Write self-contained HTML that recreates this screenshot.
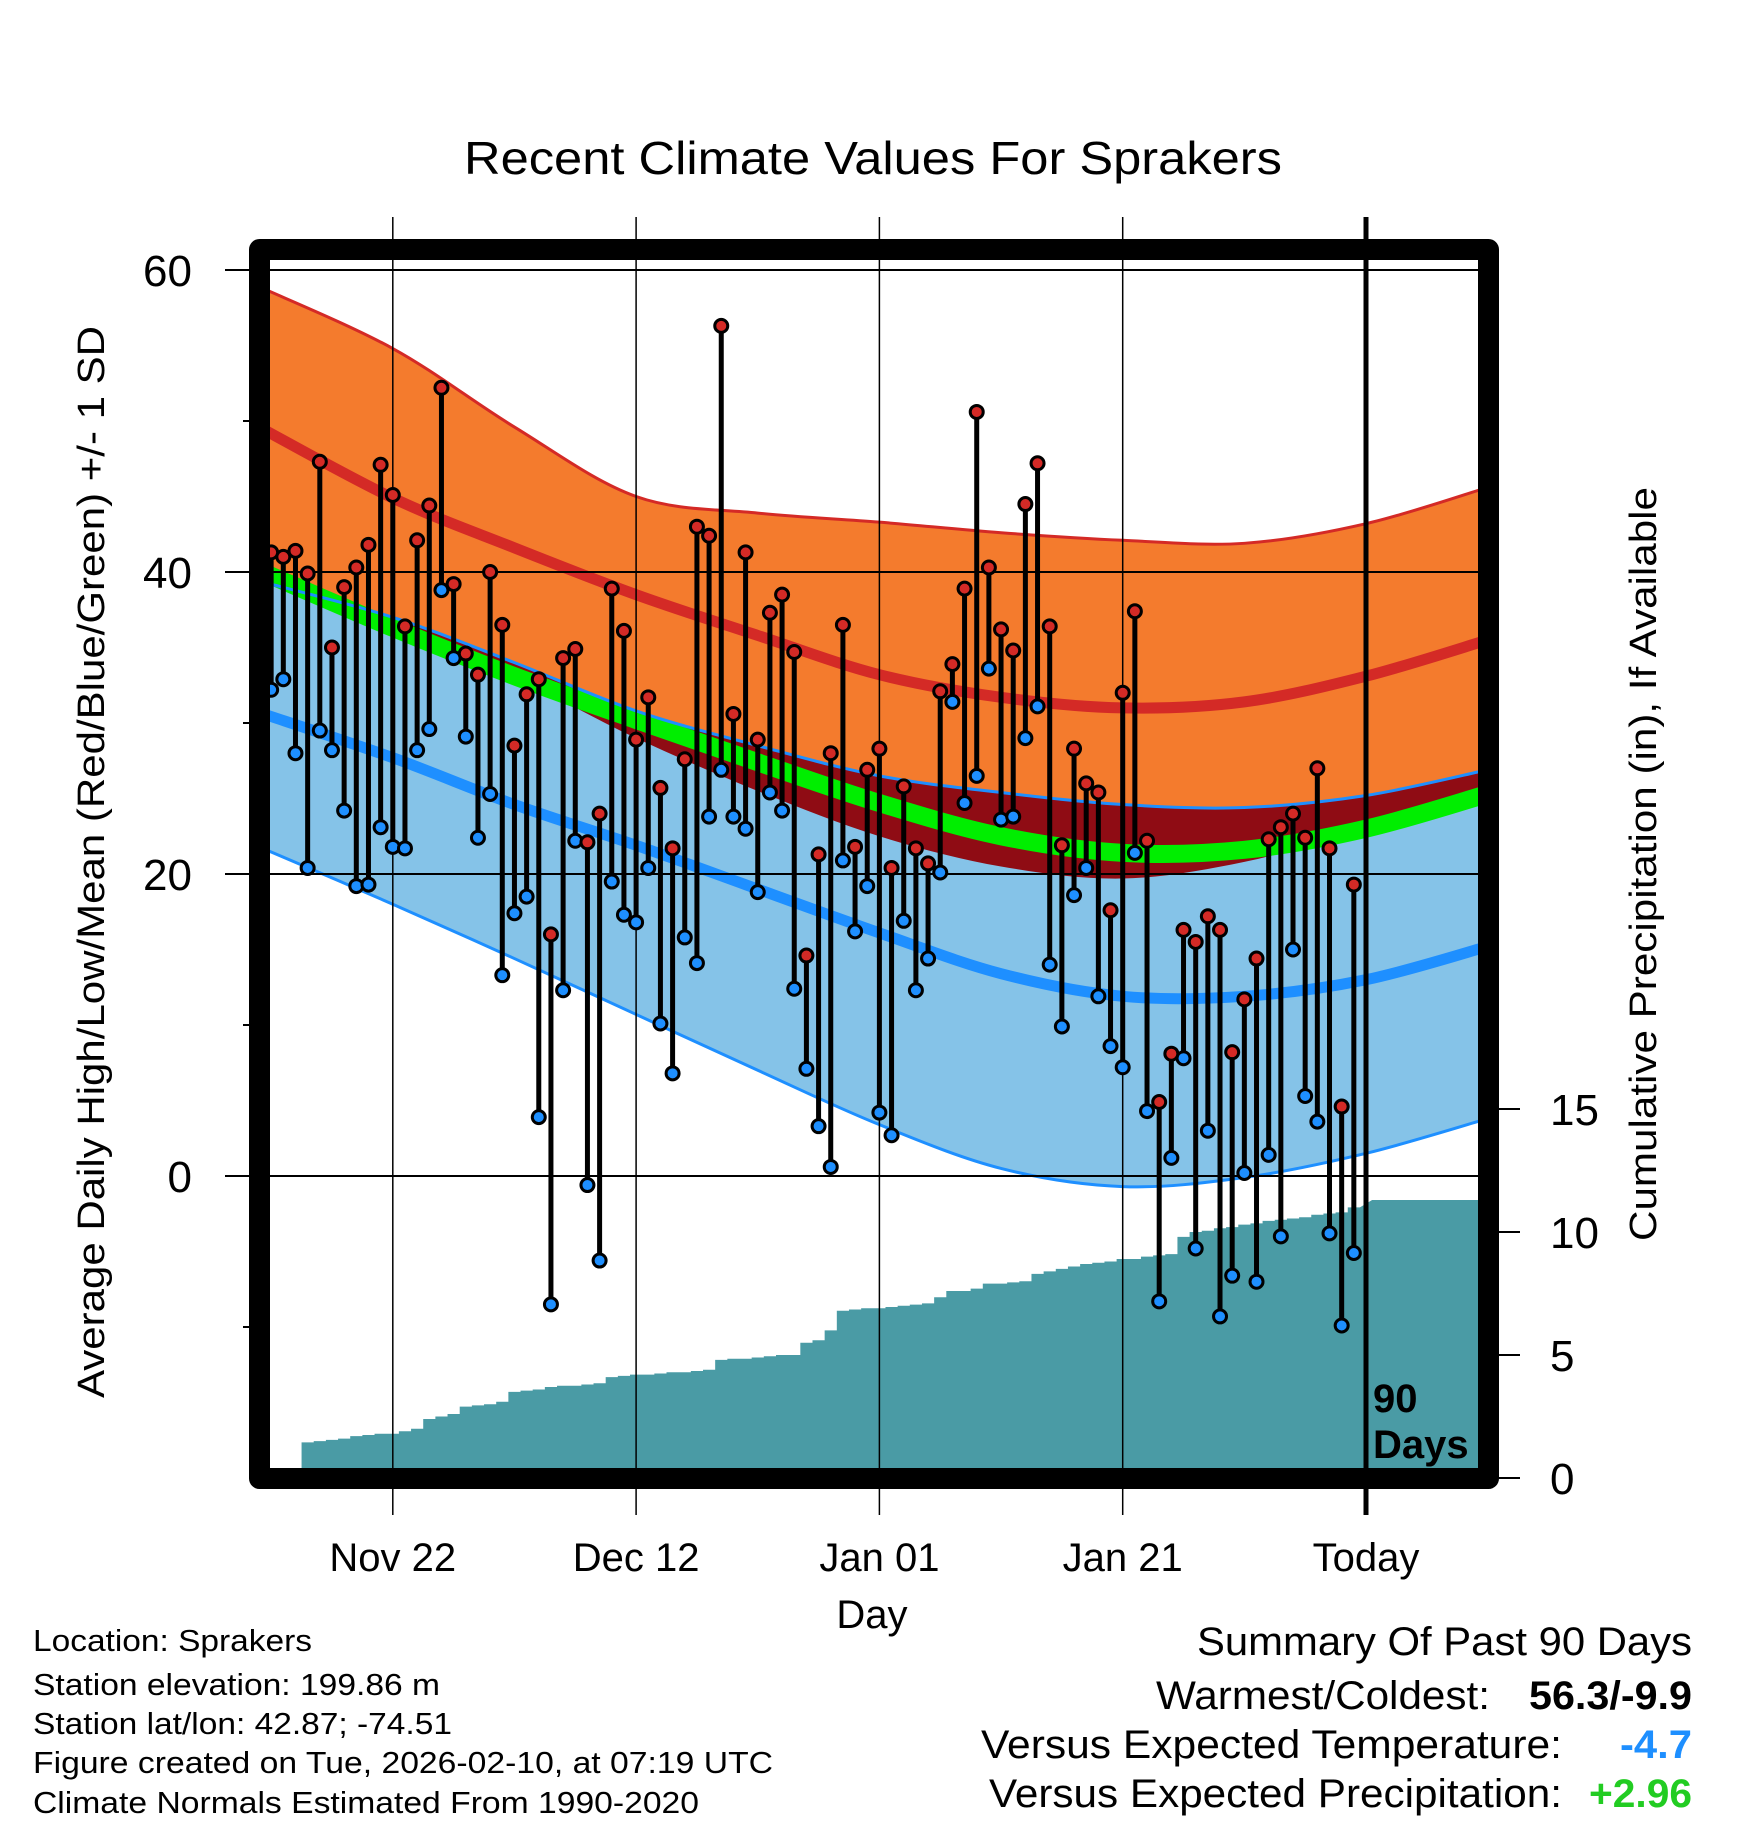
<!DOCTYPE html>
<html><head><meta charset="utf-8"><style>
html,body{margin:0;padding:0;background:#fff}
svg{display:block;font-family:"Liberation Sans",sans-serif}
</style></head><body>
<svg id="chart" width="1748" height="1828" viewBox="0 0 1748 1828" xmlns="http://www.w3.org/2000/svg">
<defs><clipPath id="plotClip"><rect x="270" y="260" width="1208" height="1208"/></clipPath>
<clipPath id="highClip"><path id="highClipPath" d=""/></clipPath></defs>
<text x="873" y="174" font-size="46" text-anchor="middle" textLength="818" lengthAdjust="spacingAndGlyphs">Recent Climate Values For Sprakers</text>
<g id="plot" clip-path="url(#plotClip)"></g>
<g id="axes"></g>
<g id="marks" clip-path="url(#plotClip)"></g>
<rect x="259.5" y="249.5" width="1229" height="1229" fill="none" stroke="#000" stroke-width="21" stroke-linejoin="round"/>
<text x="1373" y="1412" font-size="40" font-weight="bold">90</text>
<text x="1373" y="1458" font-size="40" font-weight="bold">Days</text>
<text transform="translate(104,862) rotate(-90)" font-size="38" text-anchor="middle" textLength="1072" lengthAdjust="spacingAndGlyphs">Average Daily High/Low/Mean (Red/Blue/Green) +/- 1 SD</text>
<text transform="translate(1656,864) rotate(-90)" font-size="38" text-anchor="middle" textLength="754" lengthAdjust="spacingAndGlyphs">Cumulative Precipitation (in), If Available</text>
<text x="872" y="1628" font-size="40" text-anchor="middle">Day</text>
<g font-size="31">
<text x="33" y="1651" textLength="279" lengthAdjust="spacingAndGlyphs">Location: Sprakers</text>
<text x="33" y="1695" textLength="407" lengthAdjust="spacingAndGlyphs">Station elevation: 199.86 m</text>
<text x="33" y="1734" textLength="419" lengthAdjust="spacingAndGlyphs">Station lat/lon: 42.87; -74.51</text>
<text x="33" y="1773" textLength="740" lengthAdjust="spacingAndGlyphs">Figure created on Tue, 2026-02-10, at 07:19 UTC</text>
<text x="33" y="1813" textLength="666" lengthAdjust="spacingAndGlyphs">Climate Normals Estimated From 1990-2020</text>
</g>
<g font-size="40">
<text x="1197" y="1655" textLength="495" lengthAdjust="spacingAndGlyphs">Summary Of Past 90 Days</text>
<text x="1156" y="1709" textLength="334" lengthAdjust="spacingAndGlyphs">Warmest/Coldest:</text>
<text x="1529" y="1709" font-weight="bold" textLength="163" lengthAdjust="spacingAndGlyphs">56.3/-9.9</text>
<text x="981" y="1758" textLength="581" lengthAdjust="spacingAndGlyphs">Versus Expected Temperature:</text>
<text x="1620" y="1758" font-weight="bold" fill="#1e8fff" textLength="72" lengthAdjust="spacingAndGlyphs">-4.7</text>
<text x="989" y="1807" textLength="573" lengthAdjust="spacingAndGlyphs">Versus Expected Precipitation:</text>
<text x="1589" y="1807" font-weight="bold" fill="#22cc22" textLength="103" lengthAdjust="spacingAndGlyphs">+2.96</text>
</g>
</svg>
<script>
// daily highs/lows (oldest to newest, last 90 days)
const highs=[41.3,41.0,41.4,39.9,47.3,35.0,39.0,40.3,41.8,47.1,45.1,36.4,42.1,44.4,52.2,39.2,34.6,33.2,40.0,36.5,28.5,31.9,32.9,16.0,34.3,34.9,22.1,24.0,38.9,36.1,28.9,31.7,25.7,21.7,27.6,43.0,42.4,56.3,30.6,41.3,28.9,37.3,38.5,34.7,14.6,21.3,28.0,36.5,21.8,26.9,28.3,20.4,25.8,21.7,20.7,32.1,33.9,38.9,50.6,40.3,36.2,34.8,44.5,47.2,36.4,21.9,28.3,26.0,25.4,17.6,32.0,37.4,22.2,4.9,8.1,16.3,15.5,17.2,16.3,8.2,11.7,14.4,22.3,23.1,24.0,22.4,27.0,21.7,4.6,19.3];
const lows=[32.2,32.9,28.0,20.4,29.5,28.2,24.2,19.2,19.3,23.1,21.8,21.7,28.2,29.6,38.8,34.3,29.1,22.4,25.3,13.3,17.4,18.5,3.9,-8.5,12.3,22.2,-0.6,-5.6,19.5,17.3,16.8,20.4,10.1,6.8,15.8,14.1,23.8,26.9,23.8,23.0,18.8,25.4,24.2,12.4,7.1,3.3,0.6,20.9,16.2,19.2,4.2,2.7,16.9,12.3,14.4,20.1,31.4,24.7,26.5,33.6,23.6,23.8,29.0,31.1,14.0,9.9,18.6,20.4,11.9,8.6,7.2,21.4,4.3,-8.3,1.2,7.8,-4.8,3.0,-9.3,-6.6,0.2,-7.0,1.4,-4.0,15.0,5.3,3.6,-3.8,-9.9,-5.1];
const precip=[0,0,0.3,1.45,1.5,1.55,1.6,1.7,1.75,1.8,1.8,1.9,2.0,2.4,2.5,2.6,2.9,2.95,3.0,3.1,3.5,3.55,3.6,3.7,3.75,3.75,3.8,3.85,4.1,4.15,4.2,4.2,4.25,4.3,4.3,4.35,4.4,4.8,4.85,4.85,4.9,4.95,5.0,5.0,5.5,5.6,6.0,6.8,6.85,6.9,6.9,6.95,7.0,7.05,7.1,7.35,7.6,7.6,7.7,7.9,7.9,7.95,8.0,8.3,8.4,8.5,8.6,8.7,8.75,8.8,8.9,8.9,9.0,9.05,9.1,9.8,10.0,10.05,10.15,10.2,10.3,10.35,10.45,10.5,10.55,10.6,10.7,10.75,10.8,11.0];
// normals sampled every 10 days (days relative to today)
const normDays=[-91,-80,-70,-60,-50,-40,-30,-20,-10,0,10];
const highUpper=[58.9,54.8,49.6,45.0,43.9,43.3,42.6,42.1,41.9,43.2,45.6];
const highMean=[49.6,44.9,41.6,38.5,35.8,33.2,31.7,31.0,31.4,33.1,35.5];
const highLower=[40.3,36.0,33.0,29.0,25.5,22.5,20.5,19.7,20.8,23.0,25.4];
const lowUpper=[39.4,37.0,34.0,30.8,28.5,26.5,25.4,24.6,24.4,25.2,26.9];
const lowMean=[30.7,27.7,24.6,21.9,19.0,16.1,13.4,11.9,11.9,13.0,15.2];
const lowLower=[21.8,18.0,14.4,10.7,7.0,3.4,0.5,-0.7,-0.1,1.5,3.8];
const meanNorm=[40.1,36.3,33.1,30.2,27.4,24.7,22.5,21.4,21.6,23.0,25.3];
const tempTicks=[0,20,40,60];
const tempMinor=[-10,10,30,50];
const precipTicks=[0,5,10,15];
const dateTicks=[-80,-60,-40,-20,0];
const dateLabels=["Nov 22","Dec 12","Jan 01","Jan 21","Today"];

const NS="http://www.w3.org/2000/svg";
const X=d=>1366+d*12.165;
const Y=t=>1176-t*15.1;
const P=p=>1478-p*24.6;
function mk(tag,attrs,parent){const e=document.createElementNS(NS,tag);for(const k in attrs)e.setAttribute(k,attrs[k]);parent.appendChild(e);return e;}
function curvePts(vals){return normDays.map((d,i)=>[X(d),Y(vals[i])]);}
function smooth(pts){let s="M"+pts[0][0]+","+pts[0][1];for(let i=0;i<pts.length-1;i++){const p0=pts[i-1]||pts[i],p1=pts[i],p2=pts[i+1],p3=pts[i+2]||p2;
const c1=[p1[0]+(p2[0]-p0[0])/6,p1[1]+(p2[1]-p0[1])/6],c2=[p2[0]-(p3[0]-p1[0])/6,p2[1]-(p3[1]-p1[1])/6];
s+=" C"+c1[0]+","+c1[1]+" "+c2[0]+","+c2[1]+" "+p2[0]+","+p2[1];}return s;}
function band(top,bot){const a=smooth(curvePts(top));const b=smooth(curvePts(bot).reverse());return a+" L"+b.slice(1)+" Z";}
const plot=document.getElementById('plot');
const axes=document.getElementById('axes');
const marks=document.getElementById('marks');
const hb=band(highUpper,highLower);
document.getElementById('highClipPath').setAttribute('d',hb);
let e;
e=mk('path',{d:hb,fill:'#f47b2d'},plot);


const lb=band(lowUpper,lowLower);
e=mk('path',{d:lb,fill:'#85c3e8'},plot);


e=mk('path',{d:lb,fill:'#8f0c14','clip-path':'url(#highClip)'},plot);


e=mk('path',{d:smooth(curvePts(meanNorm)),fill:'none',stroke:'#00ee00','stroke-width':18},plot);


e=mk('path',{d:smooth(curvePts(highUpper)),fill:'none',stroke:'#d42a26','stroke-width':3},plot);


e=mk('path',{d:smooth(curvePts(highMean)),fill:'none',stroke:'#d42a26','stroke-width':11},plot);


e=mk('path',{d:smooth(curvePts(lowUpper)),fill:'none',stroke:'#1e8fff','stroke-width':3},plot);


e=mk('path',{d:smooth(curvePts(lowLower)),fill:'none',stroke:'#1e8fff','stroke-width':3},plot);


e=mk('path',{d:smooth(curvePts(lowMean)),fill:'none',stroke:'#1e8fff','stroke-width':11},plot);


// precipitation step area
const n=precip.length;
let pd="M"+X(-n-0.5)+",1470";
precip.forEach((v,i)=>{const d=i-n;pd+=" L"+X(d-0.5)+","+P(v)+" L"+X(d+0.5)+","+P(v);});
pd+=" L"+X(0.5)+","+P(precip[n-1]+0.3)+" L"+X(11)+","+P(precip[n-1]+0.3)+" L"+X(11)+",1470 Z";
e=mk('path',{d:pd,fill:'#4a9ba5'},plot);


// gridlines
tempTicks.forEach(t=>{
 e=mk('line',{x1:225,x2:1478,y1:Y(t),y2:Y(t),stroke:'#000','stroke-width':2},axes);
 
 
 e=mk('text',{x:192,y:Y(t)+16,'font-size':44,'text-anchor':'end'},axes);
 e.textContent=t;
 
 
});
tempMinor.forEach(t=>{
 e=mk('line',{x1:243,x2:260,y1:Y(t),y2:Y(t),stroke:'#000','stroke-width':2},axes);
 
 
});
dateTicks.forEach((d,i)=>{
 e=mk('line',{x1:X(d),x2:X(d),y1:217,y2:1515,stroke:'#000','stroke-width':d===0?5:1.5},axes);
 
 
 e=mk('text',{x:X(d),y:1571,'font-size':40,'text-anchor':'middle'},axes);
 e.textContent=dateLabels[i];
 
 
});
precipTicks.forEach(p=>{
 e=mk('line',{x1:1499,x2:1520,y1:P(p),y2:P(p),stroke:'#000','stroke-width':2},axes);
 
 
 e=mk('text',{x:1550,y:P(p)+16,'font-size':44},axes);
 e.textContent=p;
 
 
});
// daily stems and dots
highs.forEach((h,i)=>{
 const d=i-n,x=X(d),l=lows[i];
 e=mk('line',{x1:x,x2:x,y1:Y(h),y2:Y(l),stroke:'#000','stroke-width':5},marks);
 
 
});
highs.forEach((h,i)=>{
 const d=i-n,x=X(d),l=lows[i];
 e=mk('circle',{cx:x,cy:Y(l),r:6.5,fill:'#1e8fff',stroke:'#000','stroke-width':3},marks);
 
 
 e=mk('circle',{cx:x,cy:Y(h),r:6.5,fill:'#d42a26',stroke:'#000','stroke-width':3},marks);
 
 
});
</script>
</body></html>
